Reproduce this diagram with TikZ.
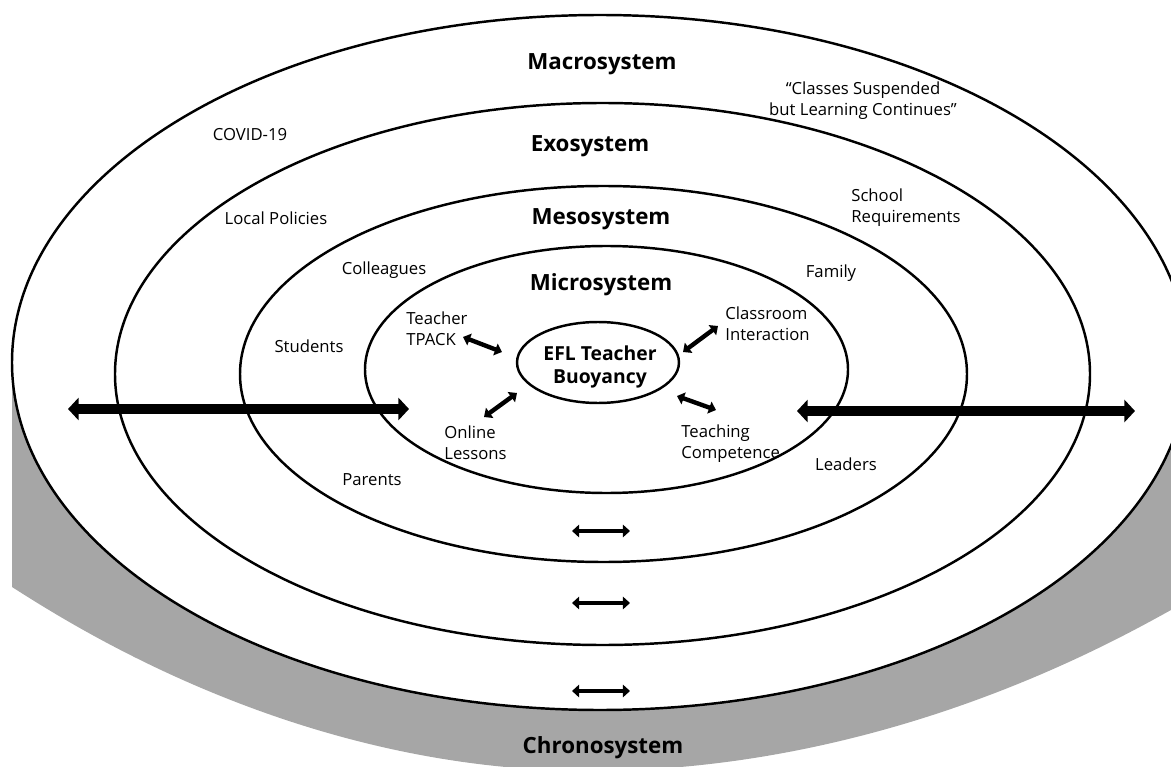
\documentclass[tikz,border=0pt]{standalone}
\usepackage{fontspec}
\setmainfont{Open Sans}
\usetikzlibrary{arrows.meta, shapes.geometric}
\definecolor{chronogrey}{RGB}{166,166,166}

\begin{document}
\begin{tikzpicture}[x=0.02cm, y=-0.02cm,
    ring/.style={black, line width=1.4pt},
    syslabel/.style={font=\fontsize{12.7}{15}\selectfont\bfseries},
    factor/.style={font=\fontsize{9.5}{11.9}\selectfont, align=left, inner sep=0pt},
    bigarrow/.style={line width=6pt, {Triangle[length=6pt,width=12.5pt]}-{Triangle[length=6pt,width=12.5pt]}},
    smallarrow/.style={line width=2.5pt, {Triangle[length=4pt,width=7pt]}-{Triangle[length=4pt,width=7pt]}}]
  \useasboundingbox (0,0) rectangle (1171,767);
  \clip (0,0) rectangle (1171,767);
  % chronosystem base
  \fill[chronogrey] (12,362.5) -- (12,587) parabola bend (590,771) (1171,610)
    -- (1195,600) -- (1195,362.5) -- cycle;
  % rings
  \draw[ring, fill=white] (600,362.5) ellipse (588 and 347.5);
  \draw[ring] (602.5,374) ellipse (487.5 and 271);
  \draw[ring] (603.5,374) ellipse (363.5 and 188);
  \draw[ring] (606.5,369.5) ellipse (241.5 and 123.5);

  % system names
  \node[syslabel] (macro) at (602,64) {Macrosystem};
  \node[syslabel] (exo) at (590,146) {Exosystem};
  \node[syslabel] (meso) at (601,219) {Mesosystem};
  \node[syslabel] (micro) at (601,285) {Microsystem};
  \node[syslabel] (chrono) at (603,748) {Chronosystem};
  \node[draw, ellipse, line width=1.4pt, minimum width=3.24cm, minimum height=1.62cm, inner sep=0pt] (buoy) at (598,362.5) {};
  \node[align=center, font=\fontsize{11}{13.6}\selectfont\bfseries] (buoytxt) at (600,367) {EFL Teacher\\Buoyancy};

  % factors
  \node[factor, align=center] (slogan) at (863,100.5) {“Classes Suspended\\but Learning Continues”};
  \node[factor] (covid) at (250,134.5) {COVID-19};
  \node[factor] (policy) at (276,218.5) {Local Policies};
  \node[factor, anchor=west] (school) at (851,208) {School\\Requirements};
  \node[factor] (colleag) at (384,270) {Colleagues};
  \node[factor] (family) at (831,273) {Family};
  \node[factor] (student) at (309,346.5) {Students};
  \node[factor] (parent) at (372,480) {Parents};
  \node[factor] (leader) at (846,464.5) {Leaders};
  \node[factor, anchor=west] (tpack) at (406,328.5) {Teacher\\TPACK};
  \node[factor, anchor=west] (class) at (725,324) {Classroom\\Interaction};
  \node[factor, anchor=west] (online) at (444,442.5) {Online\\Lessons};
  \node[factor, anchor=west] (teach) at (681,443.5) {Teaching\\Competence};

  % arrow ends
  \coordinate (tp1) at (463,337);
  \coordinate (tp2) at (502,352);
  \coordinate (cl1) at (683,352);
  \coordinate (cl2) at (718,326);
  \coordinate (on1) at (517,393);
  \coordinate (on2) at (484,417);
  \coordinate (te1) at (677,396);
  \coordinate (te2) at (716,410);
  \coordinate (bl1) at (68,409);
  \coordinate (bl2) at (409,409);
  \coordinate (br1) at (797,411);
  \coordinate (br2) at (1135,411);
  \coordinate (s11) at (572,531);
  \coordinate (s12) at (630,531);
  \coordinate (s21) at (572,603);
  \coordinate (s22) at (630,603);
  \coordinate (s31) at (572,691);
  \coordinate (s32) at (630,691);

  \draw[smallarrow] (tp1) -- (tp2);
  \draw[smallarrow] (cl1) -- (cl2);
  \draw[smallarrow] (on1) -- (on2);
  \draw[smallarrow] (te1) -- (te2);
  \draw[bigarrow] (bl1) -- (bl2);
  \draw[bigarrow] (br1) -- (br2);
  \draw[smallarrow] (s11) -- (s12);
  \draw[smallarrow] (s21) -- (s22);
  \draw[smallarrow] (s31) -- (s32);
\end{tikzpicture}
\end{document}
